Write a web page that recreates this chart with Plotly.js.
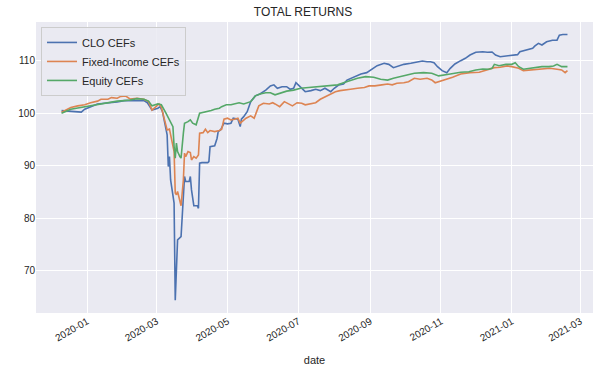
<!DOCTYPE html>
<html>
<head>
<meta charset="utf-8">
<script src="https://cdn.plot.ly/plotly-3.0.1.min.js"></script>
<style>html,body{margin:0;padding:0;background:#fff;}#chart{width:606px;height:374px;}</style>
</head>
<body>
<div id="chart"></div>
<script>
// ---- Data ----
const seriesNames = ["CLO CEFs", "Fixed-Income CEFs", "Equity CEFs"];

const cloDates = ["2019-12-10","2019-12-14","2019-12-18","2019-12-27","2019-12-30","2020-01-04","2020-01-10","2020-01-16","2020-01-22","2020-01-27","2020-02-02","2020-02-07","2020-02-13","2020-02-19","2020-02-22","2020-02-26","2020-03-02","2020-03-04","2020-03-06","2020-03-08","2020-03-10","2020-03-11","2020-03-12","2020-03-13","2020-03-16","2020-03-17","2020-03-18","2020-03-19","2020-03-22","2020-03-23","2020-03-25","2020-03-26","2020-03-29","2020-03-30","2020-03-31","2020-04-02","2020-04-05","2020-04-06","2020-04-07","2020-04-09","2020-04-14","2020-04-15","2020-04-16","2020-04-20","2020-04-22","2020-04-23","2020-04-25","2020-04-28","2020-05-01","2020-05-04","2020-05-06","2020-05-10","2020-05-12","2020-05-13","2020-05-15","2020-05-18","2020-05-21","2020-05-25","2020-05-29","2020-06-03","2020-06-07","2020-06-10","2020-06-13","2020-06-17","2020-06-21","2020-06-24","2020-06-27","2020-06-29","2020-07-01","2020-07-04","2020-07-07","2020-07-12","2020-07-16","2020-07-20","2020-07-24","2020-07-29","2020-08-01","2020-08-05","2020-08-09","2020-08-12","2020-08-18","2020-08-24","2020-08-29","2020-09-01","2020-09-07","2020-09-13","2020-09-17","2020-09-21","2020-09-26","2020-09-30","2020-10-06","2020-10-11","2020-10-16","2020-10-20","2020-10-23","2020-10-26","2020-10-29","2020-11-02","2020-11-06","2020-11-09","2020-11-13","2020-11-18","2020-11-22","2020-11-26","2020-12-01","2020-12-07","2020-12-11","2020-12-15","2020-12-18","2020-12-22","2020-12-27","2020-12-31","2021-01-06","2021-01-08","2021-01-14","2021-01-19","2021-01-21","2021-01-24","2021-01-27","2021-01-31","2021-02-05","2021-02-09","2021-02-11","2021-02-14","2021-02-18"];
const cloValues = [100.5,100.4,100.3,100.2,100.76,101.25,101.77,101.9,102.0,102.15,102.4,102.4,102.5,102.4,102.0,100.6,100.95,101.25,100.3,97.8,95.9,89.85,91.75,87.3,82.9,64.4,70.8,75.9,76.5,81.0,87.95,87.0,87.0,87.95,85.4,82.4,82.4,81.9,90.5,90.6,90.6,90.8,93.65,93.8,95.2,96.5,96.8,98.1,97.97,98.1,99.05,98.86,97.45,98.86,99.35,100.3,102.2,103.3,103.67,104.4,105.2,105.4,104.75,105.05,105.05,104.56,104.75,105.8,105.4,104.75,104.1,104.3,104.56,104.3,104.75,104.1,104.75,105.4,105.57,106.3,106.96,107.47,107.72,108.2,109.05,109.5,109.3,108.67,109.05,109.3,109.5,109.7,109.94,109.8,109.8,109.6,108.86,108.1,107.7,108.55,109.37,110.0,110.45,111.08,111.6,111.7,111.6,111.65,111.08,110.76,110.9,111.0,111.15,111.7,112.03,112.35,112.8,113.3,112.98,113.6,113.9,113.9,114.86,114.98,114.98];

const fiDates = ["2019-12-10","2019-12-18","2019-12-24","2019-12-30","2020-01-04","2020-01-10","2020-01-13","2020-01-19","2020-01-22","2020-01-27","2020-01-30","2020-02-03","2020-02-07","2020-02-13","2020-02-19","2020-02-23","2020-02-26","2020-02-29","2020-03-03","2020-03-05","2020-03-08","2020-03-10","2020-03-12","2020-03-15","2020-03-16","2020-03-17","2020-03-18","2020-03-19","2020-03-21","2020-03-22","2020-03-24","2020-03-25","2020-03-26","2020-03-28","2020-03-30","2020-03-31","2020-04-02","2020-04-04","2020-04-06","2020-04-07","2020-04-10","2020-04-12","2020-04-14","2020-04-16","2020-04-20","2020-04-24","2020-04-26","2020-04-28","2020-05-01","2020-05-04","2020-05-07","2020-05-10","2020-05-12","2020-05-17","2020-05-21","2020-05-24","2020-05-28","2020-06-01","2020-06-06","2020-06-09","2020-06-11","2020-06-15","2020-06-19","2020-06-21","2020-06-26","2020-06-30","2020-07-04","2020-07-07","2020-07-12","2020-07-16","2020-07-20","2020-07-24","2020-07-29","2020-08-02","2020-08-06","2020-08-11","2020-08-15","2020-08-21","2020-08-27","2020-08-31","2020-09-05","2020-09-11","2020-09-16","2020-09-20","2020-09-24","2020-09-30","2020-10-04","2020-10-09","2020-10-14","2020-10-20","2020-10-24","2020-10-27","2020-11-01","2020-11-05","2020-11-11","2020-11-18","2020-11-26","2020-12-04","2020-12-11","2020-12-17","2020-12-22","2020-12-28","2021-01-01","2021-01-07","2021-01-11","2021-01-17","2021-01-23","2021-01-29","2021-02-03","2021-02-09","2021-02-13","2021-02-16","2021-02-18"];
const fiValues = [100.2,101.1,101.4,101.6,102.0,102.3,102.66,102.66,102.97,102.85,103.2,103.3,102.7,102.85,102.66,102.2,100.6,101.25,101.77,101.14,98.4,96.8,96.96,93.65,92.7,84.8,84.5,85.1,83.5,82.4,87.3,92.4,91.75,92.7,92.5,91.1,91.75,91.45,92.07,96.2,96.3,96.96,96.3,96.7,96.5,96.7,96.96,98.86,99.05,98.73,98.86,99.05,98.1,99.05,99.5,99.05,101.4,101.9,101.77,102.0,101.77,101.25,102.2,102.0,101.4,102.0,101.9,101.6,101.9,102.0,102.66,103.15,103.67,104.1,104.3,104.4,104.56,104.75,104.9,105.2,105.2,105.4,105.57,105.4,105.7,105.8,106.0,106.65,106.46,106.65,106.33,105.8,106.14,106.46,106.84,107.47,107.72,107.8,108.23,108.67,108.75,109.0,108.86,108.55,108.1,108.23,108.36,108.55,108.55,108.36,108.23,107.72,108.1];

const eqDates = ["2019-12-10","2019-12-18","2019-12-24","2019-12-30","2020-01-04","2020-01-10","2020-01-16","2020-01-22","2020-01-27","2020-02-02","2020-02-07","2020-02-13","2020-02-19","2020-02-23","2020-02-26","2020-03-02","2020-03-05","2020-03-09","2020-03-12","2020-03-15","2020-03-16","2020-03-17","2020-03-18","2020-03-19","2020-03-21","2020-03-22","2020-03-24","2020-03-25","2020-03-28","2020-03-30","2020-04-01","2020-04-04","2020-04-07","2020-04-11","2020-04-14","2020-04-17","2020-04-20","2020-04-24","2020-04-26","2020-04-30","2020-05-04","2020-05-08","2020-05-11","2020-05-15","2020-05-19","2020-05-21","2020-05-25","2020-05-29","2020-06-03","2020-06-07","2020-06-11","2020-06-16","2020-06-21","2020-06-27","2020-07-03","2020-07-10","2020-07-17","2020-07-24","2020-07-29","2020-08-04","2020-08-09","2020-08-15","2020-08-21","2020-08-28","2020-09-04","2020-09-10","2020-09-16","2020-09-21","2020-09-27","2020-10-03","2020-10-09","2020-10-17","2020-10-24","2020-10-30","2020-11-03","2020-11-09","2020-11-18","2020-11-25","2020-12-01","2020-12-07","2020-12-12","2020-12-15","2020-12-17","2020-12-21","2020-12-27","2021-01-01","2021-01-04","2021-01-07","2021-01-11","2021-01-16","2021-01-21","2021-01-27","2021-02-02","2021-02-06","2021-02-09","2021-02-13","2021-02-18"];
const eqValues = [100.0,100.76,101.0,101.25,101.45,101.7,101.9,102.2,102.3,102.4,102.5,102.78,102.66,102.3,101.4,101.77,101.6,100.0,98.86,97.45,93.65,91.45,94.3,92.7,91.75,91.45,96.2,98.1,98.4,98.73,98.1,97.8,100.0,100.2,100.3,100.5,100.76,100.95,101.25,101.6,101.6,101.9,102.0,101.77,102.0,102.2,103.3,103.67,103.9,103.9,103.5,103.9,104.2,104.4,104.75,104.9,105.05,105.2,105.2,105.4,105.8,106.2,106.65,106.96,106.84,106.46,106.3,106.65,106.96,107.28,107.6,107.72,107.6,107.1,107.28,107.47,107.8,107.9,108.23,108.4,108.36,108.55,109.3,109.05,109.3,109.3,109.6,108.86,108.36,108.55,108.67,108.86,108.86,109.0,109.3,108.86,108.86];

const xTickVals = ["2020-01-01","2020-03-01","2020-05-01","2020-07-01","2020-09-01","2020-11-01","2021-01-01","2021-03-01"];
const xTickText = ["2020-01","2020-03","2020-05","2020-07","2020-09","2020-11","2021-01","2021-03"];
const yTickVals = [70, 80, 90, 100, 110];

// ---- Chart ----
const colors = ["#4C72B0", "#DD8452", "#55A868"];
const dateSets = [cloDates, fiDates, eqDates];
const valueSets = [cloValues, fiValues, eqValues];
const traces = seriesNames.map((name, i) => ({
  type: "scatter", mode: "lines", name: name,
  x: dateSets[i], y: valueSets[i],
  line: {color: colors[i], width: 1.6}
}));

const font = {family: "Liberation Sans, Arial, sans-serif", color: "#262626"};
const layout = {
  width: 606, height: 374,
  margin: {l: 36, r: 13, t: 22, b: 61},
  paper_bgcolor: "#ffffff",
  plot_bgcolor: "#EAEAF2",
  font: Object.assign({size: 10}, font),
  title: {text: "TOTAL RETURNS", font: Object.assign({size: 12}, font), x: 0.5, xanchor: "center", y: 0.968, yanchor: "middle"},
  showlegend: true,
  legend: {
    x: 0.009, y: 0.983, xanchor: "left", yanchor: "top",
    bgcolor: "rgba(234,234,242,0.85)", bordercolor: "#cccccc", borderwidth: 1,
    font: Object.assign({size: 11}, font), tracegroupgap: 0
  },
  xaxis: {
    type: "date",
    range: ["2019-11-18", "2021-03-12"],
    tickvals: xTickVals, ticktext: xTickText,
    tickangle: -30,
    showgrid: true, gridcolor: "#ffffff", gridwidth: 1,
    zeroline: false, showline: false, ticks: "",
    tickfont: Object.assign({size: 10}, font),
    title: {text: "date", font: Object.assign({size: 11}, font), standoff: 13}
  },
  yaxis: {
    range: [61.98, 117.36],
    tickvals: yTickVals,
    showgrid: true, gridcolor: "#ffffff", gridwidth: 1,
    zeroline: false, showline: false, ticks: "",
    tickfont: Object.assign({size: 10}, font)
  }
};

Plotly.newPlot("chart", traces, layout, {displayModeBar: false, staticPlot: true});
</script>
</body>
</html>
